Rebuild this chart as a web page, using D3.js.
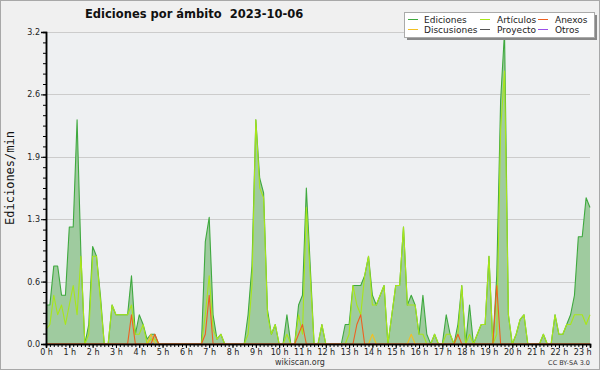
<!DOCTYPE html>
<html>
<head>
<meta charset="utf-8">
<script src="https://d3js.org/d3.v7.min.js"></script>
<style>
  body { margin: 0; background: #f0f0f0; }
  text { font-family: "DejaVu Sans", sans-serif; }
</style>
</head>
<body>
<div id="chart"></div>
<script>
// tiempo en minutos, un punto cada 10 min (00:00 - 23:20)
var minutos = d3.range(0, 1401, 10);
var horas = d3.range(0, 24);
var yTicks = [0, 0.64, 1.28, 1.92, 2.56, 3.2];

var ediciones = [0.4,0.4,0.8,0.8,0.5,0.5,1.2,1.2,2.3,0.9,
  0,0.2,1.0,0.9,0.5,0,0,0.4,0.3,0.3,
  0.3,0.3,0.7,0.1,0.3,0.2,0.05,0.1,0.1,0,
  0,0,0,0,0,0,0,0,0,0,
  0,1.05,1.3,0.3,0.05,0.1,0,0,0,0,
  0,0,0.3,0.8,2.3,1.7,1.55,0.35,0.1,0.2,
  0,0,0.3,0,0,0.4,0.5,1.6,0.8,0,
  0,0.2,0,0,0,0,0,0.2,0.2,0.6,
  0.6,0.6,0.7,0.9,0.5,0.4,0.5,0.6,0,0.3,
  0.6,0.6,1.2,0.4,0.5,0.4,0.1,0.5,0.1,0,
  0.1,0,0,0.3,0.1,0,0.2,0.6,0,0.4,
  0,0.1,0.2,0.2,0.9,0,0.7,2.5,3.2,0.3,
  0,0.1,0.25,0.3,0,0,0,0,0.1,0,
  0,0.3,0.1,0.1,0.2,0.3,0.5,1.1,1.1,1.5,
  1.4];

var articulos = [0.15,0.2,0.5,0.3,0.4,0.2,0.4,0.6,0.3,0.9,
  0,0.1,0.9,0.9,0.45,0,0,0.4,0.3,0.3,
  0.3,0.3,0.4,0.1,0.1,0.2,0,0.05,0.05,0,
  0,0,0,0,0,0,0,0,0,0,
  0,0.3,0.7,0.15,0.05,0.1,0,0,0,0,
  0,0,0.1,0.6,2.3,1.6,1.5,0.3,0.1,0.2,
  0,0,0.1,0,0,0.3,0.1,1.4,0.7,0,
  0,0.2,0,0,0,0,0,0,0.1,0.6,
  0.4,0.3,0.7,0.9,0.4,0.4,0.5,0.6,0,0.3,
  0.6,0.6,1.2,0.4,0.4,0.4,0.1,0.1,0,0,
  0.1,0,0,0.1,0.1,0,0.1,0.6,0,0.1,
  0,0.1,0.2,0.2,0.9,0,0.1,2.2,2.8,0.3,
  0,0.1,0.25,0.3,0,0,0,0,0.1,0,
  0,0.3,0.1,0.1,0.2,0.2,0.3,0.3,0.3,0.2,
  0.3];

var anexos = [0,0,0,0,0,0,0,0,0,0,
  0,0,0,0,0,0,0,0,0,0,
  0,0,0.3,0,0,0,0,0,0.1,0,
  0,0,0,0,0,0,0,0,0,0,
  0,0.1,0.5,0,0,0,0,0,0,0,
  0,0,0,0,0,0,0,0,0,0,
  0,0,0,0,0,0.1,0.2,0,0,0,
  0,0,0,0,0,0,0,0,0,0,
  0.2,0.3,0,0,0,0,0,0,0,0,
  0,0,0,0,0,0,0,0,0,0,
  0,0,0,0,0,0,0.1,0,0,0,
  0,0,0,0,0,0,0.6,0,0,0,
  0,0,0,0,0,0,0,0,0,0,
  0,0,0,0,0,0,0,0,0,0,
  0];

var discusiones = [0,0,0,0,0,0,0,0,0,0,
  0,0,0,0,0,0,0,0,0,0,
  0,0,0,0,0,0,0,0.1,0,0,
  0,0,0,0,0,0,0,0,0,0,
  0,0,0,0,0,0,0,0,0,0,
  0,0,0,0,0,0,0,0,0,0,
  0,0,0,0,0,0,0,0,0,0,
  0,0,0,0,0,0,0,0,0,0,
  0,0,0,0,0.1,0,0,0,0,0,
  0,0,0,0,0.1,0,0,0,0,0,
  0,0,0,0,0,0,0,0,0,0,
  0,0,0,0,0,0,0,0,0,0,
  0,0,0,0,0,0,0,0,0,0,
  0,0,0,0,0,0,0,0,0,0,
  0];

// proyecto y otros sin actividad ese dia
var proyecto = minutos.map(function(){ return 0; });
var otros = minutos.map(function(){ return 0; });

var series = [
  {name: "Ediciones", values: ediciones, color: "#3fa93f"},
  {name: "Artículos", values: articulos, color: "#a8e61a"},
  {name: "Anexos", values: anexos, color: "#ee6020"},
  {name: "Discusiones", values: discusiones, color: "#f2c023"},
  {name: "Proyecto", values: proyecto, color: "#555555"},
  {name: "Otros", values: otros, color: "#9b4fe8"}
];
var legendOrder = ["Ediciones", "Artículos", "Anexos", "Discusiones", "Proyecto", "Otros"];
var drawOrder = ["Ediciones", "Artículos", "Proyecto", "Otros", "Discusiones", "Anexos"];

var W = 600, H = 370;
var margin = {top: 32, right: 10, bottom: 26, left: 46};

var svg = d3.select("#chart").append("svg")
    .attr("width", W)
    .attr("height", H);

// fondo y borde
svg.append("rect").attr("x", 0.5).attr("y", 0.5)
    .attr("width", W - 1).attr("height", H - 1)
    .attr("fill", "#f0f0f0").attr("stroke", "#a8a8a8");
svg.append("rect")
    .attr("x", margin.left).attr("y", margin.top)
    .attr("width", W - margin.left - margin.right)
    .attr("height", H - margin.top - margin.bottom)
    .attr("fill", "#eef0f2");

var x = d3.scaleLinear().domain([0, 1400]).range([margin.left, W - margin.right]);
var y = d3.scaleLinear().domain([0, 3.2]).range([H - margin.bottom, margin.top]);

// grid
svg.append("g").selectAll("line")
    .data(yTicks.slice(1))
    .enter().append("line")
    .attr("x1", margin.left).attr("x2", W - margin.right)
    .attr("y1", function(d){ return Math.round(y(d)) + 0.5; })
    .attr("y2", function(d){ return Math.round(y(d)) + 0.5; })
    .attr("stroke", "#cccccc");

// area de ediciones
var area = d3.area()
    .x(function(d, i){ return x(minutos[i]); })
    .y0(y(0))
    .y1(function(d){ return y(d); });
svg.append("path")
    .datum(ediciones)
    .attr("d", area)
    .attr("fill", "#9fcb9f");

var line = d3.line()
    .x(function(d, i){ return x(minutos[i]); })
    .y(function(d){ return y(d); });

drawOrder.forEach(function(name){
  var s = series.find(function(d){ return d.name == name; });
  svg.append("path")
    .datum(s.values)
    .attr("d", line)
    .attr("fill", "none")
    .attr("stroke", s.color)
    .attr("stroke-width", 1.1)
    .attr("stroke-linejoin", "round");
});

// eje y
svg.append("g")
    .attr("transform", "translate(" + margin.left + ",0)")
    .call(d3.axisLeft(y).tickValues(yTicks).tickSize(5).tickPadding(1)
        .tickFormat(d3.format(".1f")));
svg.append("g")
    .attr("transform", "translate(" + margin.left + ",0)")
    .call(d3.axisLeft(y).tickValues(d3.range(0, 31).map(function(k){ return k * 3.2 / 30; }))
        .tickSize(3).tickFormat(""));

// eje x
svg.append("g")
    .attr("transform", "translate(0," + (H - margin.bottom) + ")")
    .call(d3.axisBottom(x).tickValues(horas.map(function(h){ return h * 60; }))
        .tickSize(4).tickPadding(1)
        .tickFormat(function(d){ return (d / 60) + " h"; }));
svg.append("g")
    .attr("transform", "translate(0," + (H - margin.bottom) + ")")
    .call(d3.axisBottom(x).tickValues(minutos).tickSize(3).tickFormat(""));

svg.selectAll(".domain").attr("stroke", "#000").attr("stroke-width", 1.5);
svg.selectAll(".tick line").attr("stroke", "#000");
svg.selectAll(".tick text")
    .attr("fill", "#222")
    .style("font-family", "DejaVu Sans")
    .style("font-size", "8px");

// titulo
svg.append("text")
    .attr("x", 85).attr("y", 18)
    .attr("xml:space", "preserve")
    .style("font-weight", "bold")
    .style("font-size", "11.5px")
    .attr("fill", "#111")
    .text("Ediciones por ámbito  2023-10-06");

// etiqueta eje y
svg.append("text")
    .attr("transform", "translate(14,178) rotate(-90)")
    .attr("text-anchor", "middle")
    .style("font-family", "DejaVu Sans Mono")
    .style("font-size", "12px")
    .attr("fill", "#111")
    .text("Ediciones/min");

svg.append("text")
    .attr("x", 300).attr("y", 365)
    .attr("text-anchor", "middle")
    .style("font-size", "8px")
    .attr("fill", "#333")
    .text("wikiscan.org");

svg.append("text")
    .attr("x", 590).attr("y", 365)
    .attr("text-anchor", "end")
    .style("font-size", "6.5px")
    .attr("fill", "#333")
    .text("CC BY-SA 3.0");

// leyenda
var lg = svg.append("g").attr("transform", "translate(404,12)");
lg.append("rect").attr("x", 3).attr("y", 3).attr("width", 190).attr("height", 25).attr("fill", "#888");
lg.append("rect").attr("x", 0.5).attr("y", 0.5).attr("width", 190).attr("height", 25)
    .attr("fill", "#ffffff").attr("stroke", "#aaaaaa");
var colX = [4, 76, 134];
var textX = [20, 93, 151];
legendOrder.forEach(function(name, k){
  var s = series.find(function(d){ return d.name == name; });
  var col = k % 3, row = Math.floor(k / 3);
  var yy = 7.5 + row * 10;
  lg.append("line")
    .attr("x1", colX[col]).attr("x2", colX[col] + 10)
    .attr("y1", yy).attr("y2", yy)
    .attr("stroke", s.color);
  lg.append("text")
    .attr("x", textX[col]).attr("y", yy + 3.5)
    .style("font-size", "9px")
    .attr("fill", "#222")
    .text(name);
});
</script>
</body>
</html>
